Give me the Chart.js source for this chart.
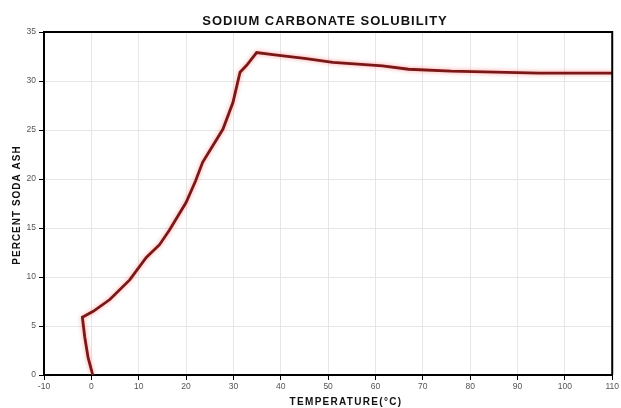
<!DOCTYPE html>
<html>
<head>
<meta charset="utf-8">
<script src="https://cdn.jsdelivr.net/npm/chart.js@4.4.1/dist/chart.umd.min.js"></script>
<style>
  html, body { margin: 0; padding: 0; background: #fff; }
  #wrap { width: 621px; height: 408px; }
</style>
</head>
<body>
<div id="wrap"><canvas id="chartSolubility"></canvas></div>
<script>
// Data: suhu (°C) dan persen soda ash
const temperatures = [0.3, -0.7, -1.4, -1.9, 0.4, 3.9, 8.1, 11.6, 14.4, 16.5, 20.0, 22.0, 23.5, 27.8, 29.9, 31.4, 32.8, 34.9, 38.3, 45, 51, 61.5, 67, 76, 94.6, 110];
const percentSodaAsh = [0, 1.8, 3.9, 5.9, 6.5, 7.7, 9.7, 12.0, 13.3, 14.8, 17.6, 19.8, 21.7, 25.1, 27.8, 30.9, 31.6, 32.9, 32.7, 32.3, 31.9, 31.55, 31.2, 31.0, 30.8, 30.8];

const chartTitle = 'SODIUM CARBONATE SOLUBILITY';
const xTitle = 'TEMPERATURE(°C)';
const yTitle = 'PERCENT SODA ASH';

// Bingkai atas dan kanan area plot
const framePlugin = {
  id: 'frame',
  afterDraw(chart) {
    const { ctx, chartArea: a } = chart;
    ctx.save();
    ctx.strokeStyle = '#000';
    ctx.lineWidth = 2;
    ctx.beginPath();
    ctx.moveTo(a.left, a.top);
    ctx.lineTo(a.right, a.top);
    ctx.lineTo(a.right, a.bottom);
    ctx.stroke();
    ctx.restore();
  }
};

// Judul dan label sumbu dengan jarak huruf lebar
const labelPlugin = {
  id: 'labels',
  afterDraw(chart) {
    const { ctx } = chart;
    ctx.save();
    ctx.fillStyle = '#111';
    ctx.textAlign = 'center';
    ctx.textBaseline = 'middle';
    ctx.font = 'bold 13px "Liberation Sans", Arial, sans-serif';
    ctx.letterSpacing = '1px';
    ctx.fillText(chartTitle, 325, 21);
    ctx.font = 'bold 10px "Liberation Sans", Arial, sans-serif';
    ctx.letterSpacing = '1.3px';
    ctx.fillText(xTitle, 346, 402);
    ctx.translate(17, 205);
    ctx.rotate(-Math.PI / 2);
    ctx.letterSpacing = '1px';
    ctx.fillText(yTitle, 0, 0);
    ctx.restore();
  }
};

// Efek bayangan merah muda di sekitar garis
const glowPlugin = {
  id: 'glow',
  beforeDatasetDraw(chart) {
    chart.ctx.save();
    chart.ctx.shadowColor = 'rgba(255, 80, 80, 0.6)';
    chart.ctx.shadowBlur = 4;
  },
  afterDatasetDraw(chart) {
    chart.ctx.restore();
  }
};

const ctx = document.getElementById('chartSolubility').getContext('2d');
new Chart(ctx, {
  type: 'line',
  data: {
    datasets: [{
      label: 'Solubility',
      data: temperatures.map((t, i) => ({ x: t, y: percentSodaAsh[i] })),
      borderColor: '#7a1818',
      borderWidth: 2.8,
      pointRadius: 0,
      tension: 0,
      fill: false
    }]
  },
  options: {
    responsive: true,
    maintainAspectRatio: false,
    animation: false,
    parsing: false,
    layout: { padding: { left: 0, right: 8, top: 32, bottom: 0 } },
    scales: {
      x: {
        type: 'linear',
        min: -10,
        max: 110,
        afterFit: s => { s.height = 33; },
        ticks: {
          stepSize: 10,
          padding: 2,
          maxRotation: 0,
          color: '#555',
          font: { size: 8.5, family: '"Liberation Sans", Arial, sans-serif' }
        },
        grid: { color: '#e6e6e6', tickColor: '#000', tickLength: 5 },
        border: { color: '#000', width: 2 }
      },
      y: {
        type: 'linear',
        min: 0,
        max: 35,
        afterFit: s => { s.width = 44; },
        ticks: {
          stepSize: 5,
          padding: 3,
          color: '#555',
          font: { size: 8.5, family: '"Liberation Sans", Arial, sans-serif' }
        },
        grid: { color: '#e6e6e6', tickColor: '#000', tickLength: 5 },
        border: { color: '#000', width: 2 }
      }
    },
    plugins: {
      legend: { display: false },
      title: { display: false },
      tooltip: { enabled: false }
    }
  },
  plugins: [framePlugin, labelPlugin, glowPlugin]
});
</script>
</body>
</html>
